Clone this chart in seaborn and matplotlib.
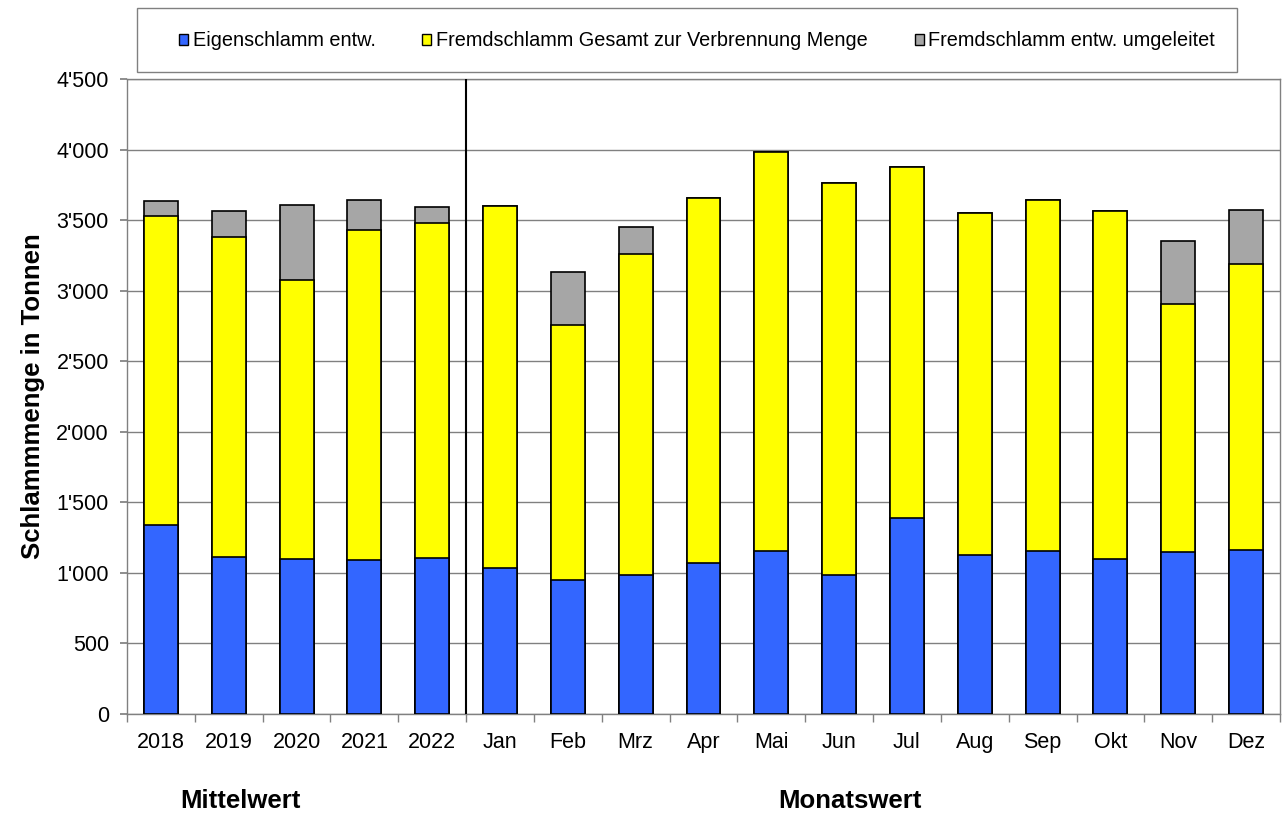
import matplotlib
matplotlib.use("Agg")
import matplotlib.pyplot as plt
import seaborn as sns
import numpy as np
import pandas as pd
from matplotlib.patches import Patch, Rectangle
from matplotlib.ticker import FuncFormatter, MultipleLocator

categories = ["2018", "2019", "2020", "2021", "2022", "Jan", "Feb", "Mrz", "Apr",
              "Mai", "Jun", "Jul", "Aug", "Sep", "Okt", "Nov", "Dez"]
eigen = [1340, 1110, 1100, 1090, 1105, 1032, 947, 987, 1068, 1157, 987, 1387,
         1127, 1153, 1098, 1148, 1164]
fremd_verbrennung = [2190, 2272, 1976, 2340, 2375, 2568, 1810, 2273, 2589, 2826,
                     2778, 2492, 2423, 2492, 2464, 1757, 2023]
fremd_umgeleitet = [104, 183, 534, 215, 115, 0, 373, 191, 0, 0, 0, 0, 0, 0, 0, 449, 384]
series_names = ["Eigenschlamm entw.", "Fremdschlamm Gesamt zur Verbrennung Menge",
                "Fremdschlamm entw. umgeleitet"]
colors = ["#3366FF", "#FFFF00", "#A6A6A6"]

sns.set_theme(style="white")
plt.rcParams["font.family"] = ["Liberation Sans", "DejaVu Sans"]
plt.rcParams["text.color"] = "black"
plt.rcParams["axes.labelcolor"] = "black"

df = pd.DataFrame({"cat": categories,
                   "b": np.array(eigen),
                   "y": np.array(eigen) + np.array(fremd_verbrennung),
                   "g": np.array(eigen) + np.array(fremd_verbrennung) + np.array(fremd_umgeleitet)})

fig = plt.figure(figsize=(12.86, 8.14), dpi=100)
ax = fig.add_axes([127/1286, 1 - 714/814, (1280-127)/1286, (714-79)/814])

for col, c in zip(["g", "y", "b"], colors[::-1]):
    sns.barplot(data=df, x="cat", y=col, order=categories, color=c, width=0.5,
                edgecolor="black", linewidth=1.2, saturation=1, ax=ax, zorder=3)

ax.set_ylim(0, 4500)
ax.set_xlim(-0.5, len(categories) - 0.5)
ax.yaxis.set_major_locator(MultipleLocator(500))
ax.yaxis.set_major_formatter(FuncFormatter(lambda v, p: f"{int(v):,}".replace(",", "'")))
ax.grid(axis="y", color="#808080", linewidth=1, zorder=0)
ax.set_axisbelow(True)
for s in ax.spines.values():
    s.set_color("#808080")
    s.set_linewidth(1)
ax.tick_params(axis="y", which="both", left=True, length=5, color="#808080",
               labelsize=15.5, pad=8, labelcolor="black")
ax.set_xticks(range(len(categories)))
ax.set_xticklabels(categories, fontsize=15.5)
ax.tick_params(axis="x", length=0, pad=13, labelcolor="black")
ax.set_xticks(np.arange(-0.5, len(categories), 1), minor=True)
ax.tick_params(axis="x", which="minor", bottom=True, length=6, color="#808080")
ax.set_xlabel("")
ax.set_ylabel("Schlammmenge in Tonnen", fontsize=18.5, fontweight="bold", labelpad=8)

ax.axvline(4.5, color="black", linewidth=1.5, zorder=4)

fig.text(240/1286, 1 - 801/814, "Mittelwert", fontsize=18.5, fontweight="bold",
         ha="center", va="center")
fig.text(850/1286, 1 - 801/814, "Monatswert", fontsize=18.5, fontweight="bold",
         ha="center", va="center")

# legend box
fig.patches.append(Rectangle((137/1286, 1 - 72/814), (1237-137)/1286, 64/814,
                             transform=fig.transFigure, facecolor="white",
                             edgecolor="#808080", linewidth=1))
handles = [Patch(facecolor=c, edgecolor="black", linewidth=1) for c in colors]
fig.legend(handles, series_names, loc="center", bbox_to_anchor=(697/1286, 1 - 41/814),
           ncol=3, frameon=False, fontsize=14.3, handlelength=0.45, handleheight=0.45,
           handletextpad=0.25, columnspacing=2.35)

fig.savefig("out.png", dpi=100)
